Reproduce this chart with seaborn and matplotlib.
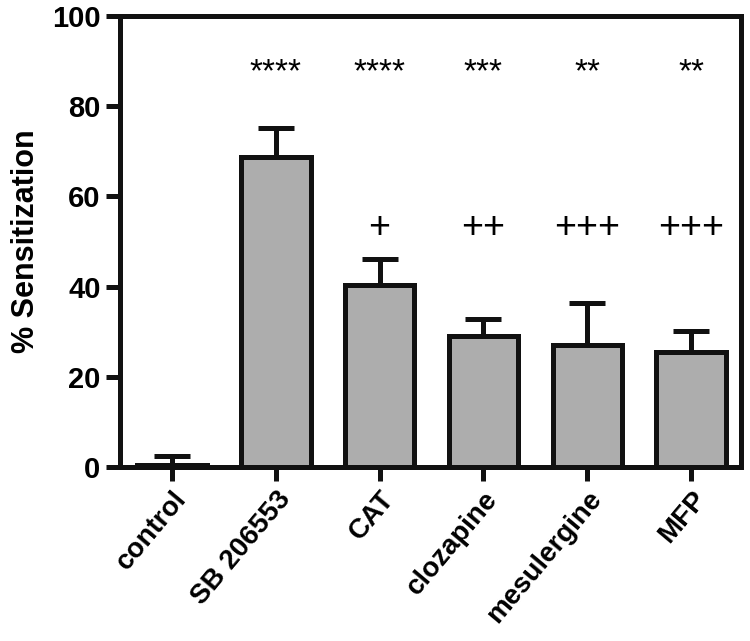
import numpy as np
import pandas as pd
import seaborn as sns
import matplotlib.pyplot as plt

# values
groups = ["control", "SB 206553", "CAT", "clozapine", "mesulergine", "MFP"]
means = [0.5, 68.7, 40.4, 29.0, 27.0, 25.5]
sems = [2.0, 6.5, 5.7, 3.8, 9.4, 4.7]
stars = ["", "****", "****", "***", "**", "**"]
plus = ["", "", "+", "++", "+++", "+++"]

sns.set_style("ticks")
plt.rcParams['font.family'] = ['Liberation Sans', 'DejaVu Sans']
plt.rcParams['text.color'] = 'black'
plt.rcParams['axes.labelcolor'] = 'black'
plt.rcParams['xtick.labelcolor'] = 'black'
plt.rcParams['ytick.labelcolor'] = 'black'

df = pd.DataFrame({"group": groups, "mean": means})

fig = plt.figure(figsize=(7.5, 6.41), dpi=100)
ax = fig.add_axes([0.16, 0.2715, 0.828, 0.7035])

lw = 3.6
ax.errorbar(np.arange(len(groups)), means, yerr=[np.zeros(len(sems)), sems],
            fmt='none', ecolor='#111111', elinewidth=lw, capsize=13,
            capthick=lw, zorder=1)
sns.barplot(data=df, x="group", y="mean", color="#adadad", errorbar=None,
            width=0.67, edgecolor="#111111", linewidth=lw, saturation=1,
            ax=ax, zorder=2)
# control bar looks empty
ax.patches[0].set_facecolor("white")

for i in range(len(groups)):
    if stars[i]:
        ax.text(i, 87.5, stars[i], ha='center', va='center', fontsize=24)
    if plus[i]:
        ax.text(i, 53, plus[i], ha='center', va='center', fontsize=27)

ax.set_ylim(0, 100)
ax.set_xlim(-0.5, 5.48)
ax.set_yticks([0, 20, 40, 60, 80, 100])
ax.set_xlabel("")
ax.set_ylabel("% Sensitization", fontsize=22, fontweight='bold', labelpad=8)
ax.set_xticks(range(len(groups)))
ax.set_xticklabels(groups, rotation=50, ha='right', rotation_mode='anchor',
                   fontsize=20, fontweight='bold')
for t in ax.get_yticklabels():
    t.set_fontsize(21)
    t.set_fontweight('bold')
ax.tick_params(axis='both', length=10, width=lw, color='#111111', pad=4)
for s in ax.spines.values():
    s.set_visible(True)
    s.set_linewidth(lw)
    s.set_color('#111111')

fig.savefig("out.png", dpi=100)
